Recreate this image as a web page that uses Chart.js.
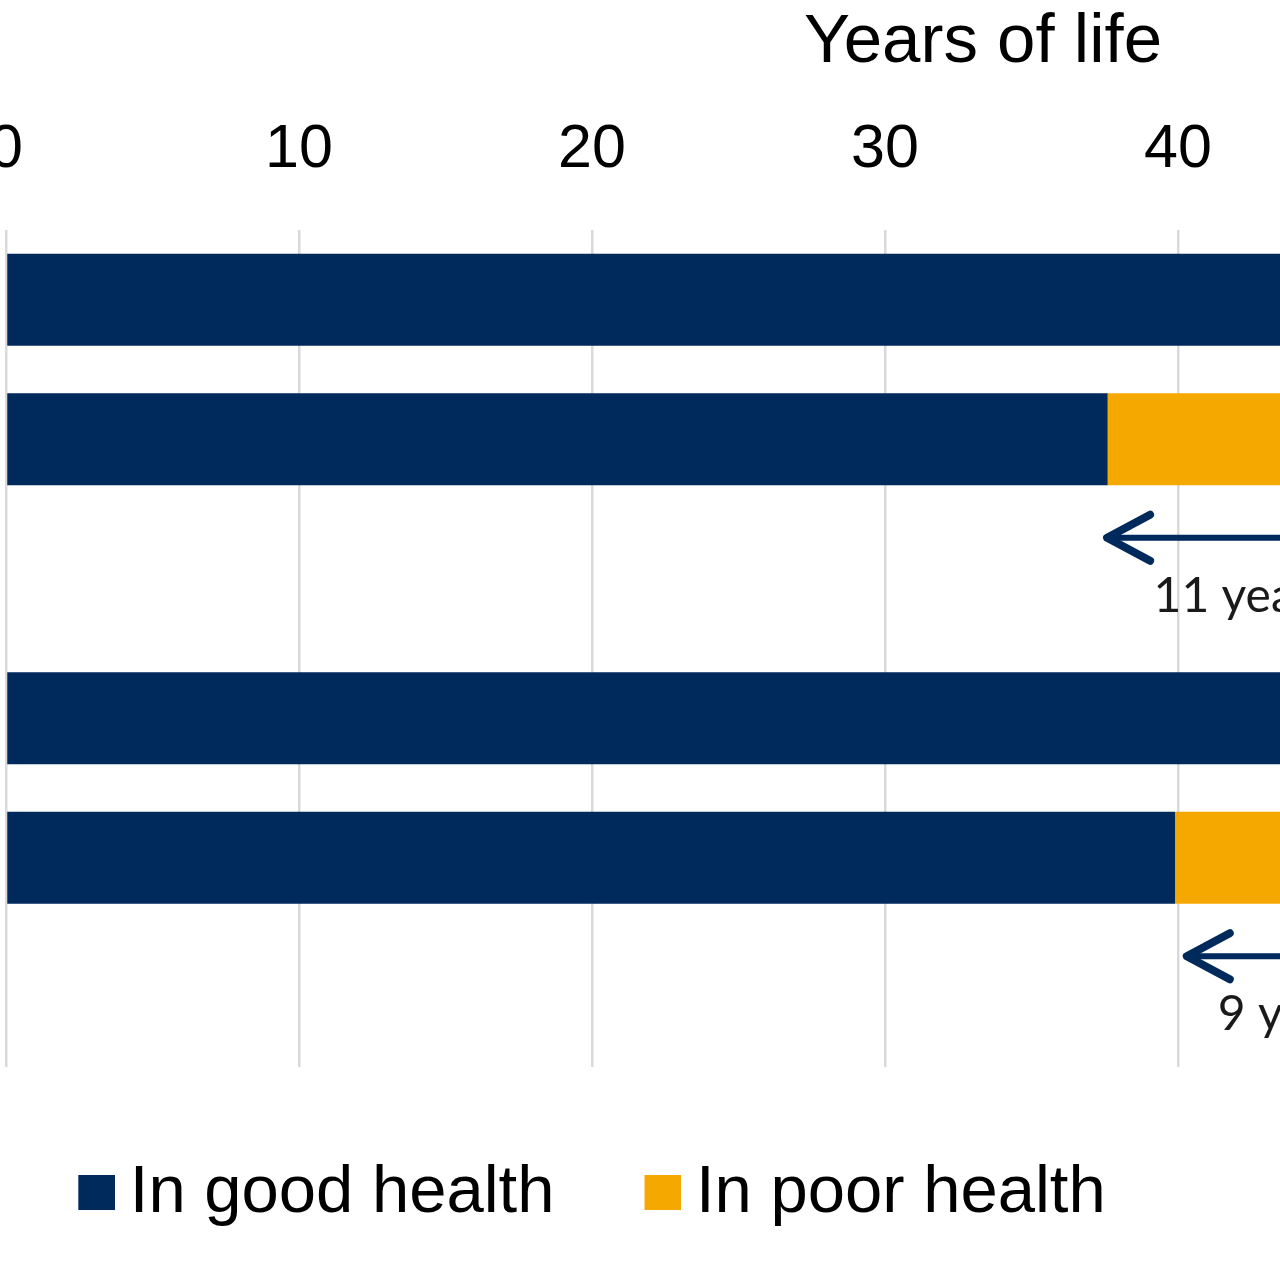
<!DOCTYPE html>
<html><head><meta charset="utf-8">
<script src="https://cdn.jsdelivr.net/npm/chart.js@4.4.1/dist/chart.umd.min.js"></script>
<style>
html,body{margin:0;padding:0;background:#fff;overflow:hidden;width:1280px;height:1280px;}
#wrap{position:absolute;left:-778px;top:0;width:2760px;height:1280px;}
canvas{display:block;}
</style></head><body>
<div id="wrap"><canvas id="c" width="2760" height="1280"></canvas></div>
<script>
// ---- data ----
const categories = ['Males: least deprived', 'Males: most deprived', 'Males: gap',
                    'Females: least deprived', 'Females: most deprived', 'Females: gap'];
const seriesNames = ['In good health', 'In poor health'];
const goodHealth = [48.6, 37.6, null, 48.9, 39.9, null];
const poorHealth = [13.0, 14.5, null, 12.5, 14.0, null];
const gapRows = [2, 5];
const gapFrom = [37.58, 40.3];
const gapYears = [11, 9];
const gapLabels = ['11 years', '9 years'];
const axisTitle = 'Years of life';
const xMax = 66.69;
const xStep = 10;

// ---- styles ----
const NAVY = '#00295C';
const ORANGE = '#F5A800';
const FONT = "'Liberation Sans', Arial, sans-serif";

function swatch(color) {
  const c = document.createElement('canvas');
  c.width = 58; c.height = 43;
  const g = c.getContext('2d');
  g.fillStyle = color;
  g.fillRect(21, 3, 37, 35);
  return c;
}
const swatches = [swatch(NAVY), swatch(ORANGE)];

const gapArrows = {
  id: 'gapArrows',
  afterDatasetsDraw(chart) {
    const {ctx, scales} = chart;
    const xs = scales.x, ys = scales.y;
    ctx.save();
    gapRows.forEach((row, i) => {
      const yc = ys.getPixelForValue(row);
      const ay = yc - 41;
      const x0 = xs.getPixelForValue(gapFrom[i]);
      const x1 = xs.getPixelForValue(gapFrom[i] + gapYears[i]);
      ctx.strokeStyle = NAVY;
      ctx.lineCap = 'round';
      ctx.lineJoin = 'round';
      ctx.lineWidth = 6;
      ctx.beginPath();
      ctx.moveTo(x0, ay);
      ctx.lineTo(x1, ay);
      ctx.stroke();
      ctx.lineWidth = 8;
      ctx.beginPath();
      ctx.moveTo(x0 + 43, ay - 23);
      ctx.lineTo(x0, ay);
      ctx.lineTo(x0 + 43, ay + 23);
      ctx.stroke();
      ctx.fillStyle = '#1a1a1a';
      ctx.font = "48px Lato, 'Open Sans', sans-serif";
      ctx.textAlign = 'center';
      ctx.textBaseline = 'alphabetic';
      ctx.fillText(gapLabels[i], (x0 + x1) / 2 - 25, yc + 33);
    });
    ctx.restore();
  }
};

new Chart(document.getElementById('c'), {
  type: 'bar',
  data: {
    labels: categories,
    datasets: [
      {label: seriesNames[0], data: goodHealth, backgroundColor: NAVY, borderWidth: 0,
       barPercentage: 0.66, categoryPercentage: 1},
      {label: seriesNames[1], data: poorHealth, backgroundColor: ORANGE, borderWidth: 0,
       barPercentage: 0.66, categoryPercentage: 1}
    ]
  },
  options: {
    indexAxis: 'y',
    responsive: false,
    animation: false,
    layout: {padding: {left: 0, right: 22, top: 0, bottom: 43}},
    scales: {
      x: {
        position: 'top', stacked: true, min: 0, max: xMax,
        ticks: {stepSize: xStep, padding: 0, color: '#000', font: {family: FONT, size: 61},
                callback: v => (Math.abs(v % xStep) < 1e-9 ? String(v) : '')},
        grid: {color: '#d9d9d9', lineWidth: 2.5, drawTicks: true, tickLength: 43,
               tickColor: 'rgba(0,0,0,0)'},
        border: {display: false},
        title: {display: true, text: axisTitle, color: '#000',
                font: {family: FONT, size: 69}, padding: {top: 2, bottom: 0}},
        afterFit(s) { s.height = 230; }
      },
      y: {
        stacked: true,
        ticks: {display: false},
        grid: {display: false},
        border: {display: false},
        afterFit(s) { s.width = 784; }
      }
    },
    plugins: {
      tooltip: {enabled: false},
      legend: {
        position: 'bottom',
        title: {display: true, text: ' ', font: {family: FONT, size: 5, lineHeight: 1}, padding: 0},
        labels: {
          usePointStyle: true,
          pointStyleWidth: 20,
          padding: 88,
          color: '#000',
          font: {family: FONT, size: 67},
          generateLabels(chart) {
            const items = Chart.defaults.plugins.legend.labels.generateLabels(chart);
            items.forEach((it, i) => { it.pointStyle = swatches[i]; });
            return items;
          }
        }
      }
    }
  },
  plugins: [gapArrows]
});
</script>
</body></html>
